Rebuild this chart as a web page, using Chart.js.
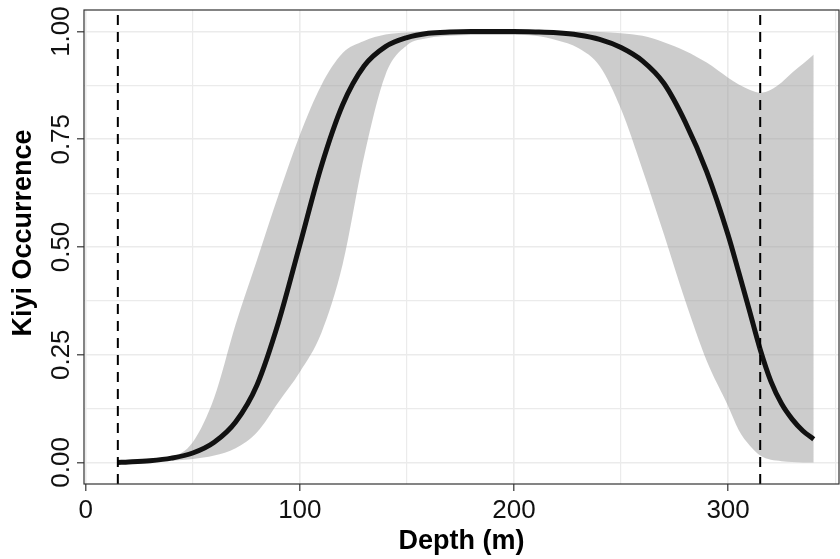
<!DOCTYPE html>
<html>
<head>
<meta charset="utf-8">
<script src="https://cdn.jsdelivr.net/npm/chart.js@4.4.1/dist/chart.umd.min.js"></script>
<style>
  html, body { margin: 0; padding: 0; background: #fff; }
  canvas { display: block; }
</style>
</head>
<body>
<canvas id="kiyi" width="840" height="559"></canvas>
<script>
// Kiyi occurrence vs depth: fitted curve with confidence band
const depth = [15, 20, 30, 40, 50, 60, 70, 80, 90, 100, 110, 120, 130, 140, 150, 160, 170, 180,
  190, 200, 210, 220, 230, 240, 250, 260, 270, 280, 290, 300, 305, 310, 315, 320, 325, 330, 335, 340];
const occurrence = [0.000, 0.001, 0.004, 0.010, 0.022, 0.047, 0.094, 0.180, 0.325, 0.505, 0.687,
  0.830, 0.920, 0.965, 0.986, 0.996, 0.999, 1.000, 1.000, 1.000, 0.999, 0.997, 0.992, 0.982,
  0.963, 0.932, 0.880, 0.790, 0.675, 0.528, 0.441, 0.352, 0.262, 0.188, 0.136, 0.100, 0.073, 0.054];
const lower = [0.000, 0.001, 0.002, 0.004, 0.008, 0.016, 0.033, 0.070, 0.140, 0.210, 0.300,
  0.460, 0.710, 0.900, 0.968, 0.985, 0.990, 0.992, 0.992, 0.992, 0.990, 0.980, 0.962, 0.920,
  0.820, 0.680, 0.530, 0.375, 0.236, 0.131, 0.075, 0.040, 0.016, 0.006, 0.003, 0.001, 0.000, 0.000];
const upper = [0.001, 0.003, 0.008, 0.013, 0.047, 0.150, 0.320, 0.470, 0.620, 0.760, 0.875,
  0.950, 0.978, 0.993, 0.998, 1.000, 1.000, 1.000, 1.000, 1.000, 1.000, 1.000, 1.000, 0.999,
  0.996, 0.990, 0.975, 0.955, 0.928, 0.893, 0.877, 0.865, 0.858, 0.865, 0.882, 0.905, 0.925, 0.947];
const cutoffs = [15, 315];           // dashed reference depths
const xTicks = [0, 100, 200, 300];
const yTicks = [0, 0.25, 0.5, 0.75, 1];

const xMin = -0.8, xMax = 351.8;
const yMin = -0.05, yMax = 1.05;
const FONT = 'Liberation Sans, Arial, sans-serif';

const pts = ys => depth.map((d, i) => ({ x: d, y: ys[i] }));
const isMajor = (v, list) => list.some(t => Math.abs(t - v) < 1e-6);

// panel border drawn over everything, plus the rotated y title
const panelDecor = {
  id: 'panelDecor',
  afterDraw(chart) {
    const { ctx, chartArea: a } = chart;
    ctx.save();
    ctx.strokeStyle = '#333333';
    ctx.lineWidth = 1.2;
    ctx.strokeRect(a.left, a.top, a.right - a.left, a.bottom - a.top);

    ctx.translate(24, (a.top + a.bottom) / 2 - 14);
    ctx.rotate(-Math.PI / 2);
    ctx.fillStyle = '#000';
    ctx.font = 'bold 27px ' + FONT;
    ctx.textAlign = 'center';
    ctx.textBaseline = 'middle';
    ctx.fillText('Kiyi Occurrence', 0, 0);
    ctx.restore();
  }
};

const vlines = cutoffs.map(c => ({
  data: [{ x: c, y: yMin }, { x: c, y: yMax }],
  borderColor: '#000',
  borderWidth: 2,
  borderDash: [10, 7],
  pointRadius: 0,
  fill: false,
  order: 1
}));

new Chart(document.getElementById('kiyi'), {
  type: 'line',
  data: {
    datasets: [
      {
        data: pts(upper),
        borderWidth: 0,
        borderColor: 'transparent',
        backgroundColor: 'rgba(153,153,153,0.5)',
        fill: '+1',
        pointRadius: 0,
        cubicInterpolationMode: 'monotone',
        order: 3
      },
      {
        data: pts(lower),
        borderWidth: 0,
        borderColor: 'transparent',
        fill: false,
        pointRadius: 0,
        cubicInterpolationMode: 'monotone',
        order: 3
      },
      {
        data: pts(occurrence),
        borderColor: '#111111',
        borderWidth: 5,
        fill: false,
        pointRadius: 0,
        cubicInterpolationMode: 'monotone',
        order: 2
      },
      ...vlines
    ]
  },
  options: {
    responsive: false,
    animation: false,
    layout: { padding: { top: 10, right: 1, bottom: 0, left: 0 } },
    plugins: {
      legend: { display: false },
      tooltip: { enabled: false }
    },
    scales: {
      x: {
        type: 'linear',
        min: xMin,
        max: xMax,
        border: { display: false },
        grid: {
          color: '#EBEBEB',
          lineWidth: c => isMajor(c.tick.value, xTicks) ? 1.6 : 1.2,
          tickLength: 7,
          tickWidth: 1.2,
          tickColor: c => isMajor(c.tick.value, xTicks) ? '#333333' : 'transparent'
        },
        ticks: {
          stepSize: 50,
          includeBounds: false,
          maxRotation: 0,
          padding: 4,
          color: '#111',
          font: { family: FONT, size: 26 },
          callback: v => isMajor(v, xTicks) ? String(v) : ''
        },
        title: {
          display: true,
          text: 'Depth (m)',
          color: '#000',
          padding: { top: 0, bottom: 1 },
          font: { family: FONT, size: 27, weight: 'bold' }
        },
        afterFit: s => { s.height = 75; }
      },
      y: {
        type: 'linear',
        min: yMin,
        max: yMax,
        border: { display: false },
        grid: {
          color: '#EBEBEB',
          lineWidth: c => isMajor(c.tick.value, yTicks) ? 1.6 : 1.2,
          tickLength: 7,
          tickWidth: 1.2,
          tickColor: c => isMajor(c.tick.value, yTicks) ? '#333333' : 'transparent'
        },
        ticks: {
          stepSize: 0.125,
          includeBounds: false,
          minRotation: 90,
          maxRotation: 90,
          crossAlign: 'center',
          padding: -10,
          color: '#111',
          font: { family: FONT, size: 26 },
          callback: v => isMajor(v, yTicks) ? v.toFixed(2) : ''
        },
        afterFit: s => { s.width = 84; }
      }
    }
  },
  plugins: [panelDecor]
});
</script>
</body>
</html>
